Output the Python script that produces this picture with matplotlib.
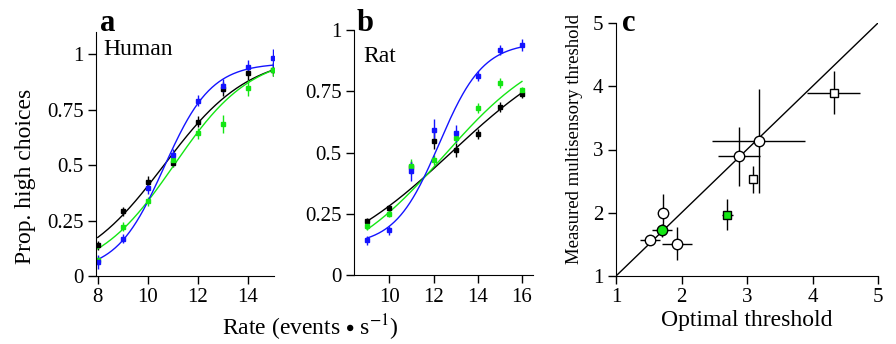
import numpy as np
import matplotlib
matplotlib.use("Agg")
import matplotlib.pyplot as plt

plt.rcParams['font.family'] = ['Liberation Serif', 'DejaVu Serif']
plt.rcParams['mathtext.fontset'] = 'stix'
plt.rcParams['font.size'] = 15

BLUE = '#1414ff'
GREEN = '#14e614'
BLACK = '#000000'

# panel a: human
rate_h = np.array([8, 9, 10, 11, 12, 13, 14, 15])
h_blue = np.array([0.063, 0.168, 0.396, 0.547, 0.79, 0.858, 0.94, 0.982])
h_blue_err = np.array([0.03, 0.02, 0.025, 0.025, 0.025, 0.03, 0.035, 0.04])
h_black = np.array([0.138, 0.292, 0.426, 0.51, 0.696, 0.843, 0.913, 0.93])
h_black_err = np.array([0.02, 0.02, 0.025, 0.02, 0.025, 0.03, 0.03, 0.03])
h_green = np.array([0.07, 0.223, 0.336, 0.523, 0.643, 0.685, 0.847, 0.93])
h_green_err = np.array([0.02, 0.02, 0.02, 0.02, 0.025, 0.04, 0.035, 0.03])

# panel b: rat
rate_r = np.array([9, 10, 11, 12, 13, 14, 15, 16])
r_blue = np.array([0.141, 0.182, 0.423, 0.59, 0.578, 0.813, 0.918, 0.94])
r_blue_err = np.array([0.02, 0.02, 0.04, 0.045, 0.035, 0.02, 0.02, 0.025])
r_black = np.array([0.219, 0.272, 0.44, 0.548, 0.51, 0.577, 0.687, 0.738])
r_black_err = np.array([0.015, 0.015, 0.025, 0.035, 0.03, 0.02, 0.02, 0.015])
r_green = np.array([0.2, 0.25, 0.444, 0.469, 0.56, 0.683, 0.783, 0.754])
r_green_err = np.array([0.015, 0.015, 0.03, 0.02, 0.02, 0.02, 0.02, 0.015])

# psychometric fits: (guess, lapse, mu, sigma)
fit_h = {'blue': (0.02, 0.04, 10.65, 0.95), 'black': (0.0, 0.0, 10.65, 1.7),
         'green': (0.0, 0.0, 11.05, 1.55)}
fit_r = {'blue': (0.12, 0.05, 12.25, 1.0), 'black': (0.0, 0.0, 12.8, 3.0),
         'green': (0.0, 0.03, 12.45, 2.4)}

# panel c: thresholds
opt_x = np.array([1.52, 1.71, 1.93, 2.885, 3.19])
meas_y = np.array([1.57, 1.99, 1.51, 2.89, 3.14])
opt_xlo = np.array([0.15, 0.03, 0.23, 0.33, 0.72])
opt_xhi = np.array([0.15, 0.03, 0.23, 0.32, 0.70])
meas_ylo = np.array([0.08, 0.27, 0.26, 0.46, 0.82])
meas_yhi = np.array([0.08, 0.31, 0.26, 0.47, 0.82])

green_c = (1.70, 1.72)
green_c_xerr = 0.15
green_c_yerr = 0.1

sq_x = np.array([3.09, 4.33])
sq_y = np.array([2.54, 3.90])
sq_xlo = np.array([0.05, 0.42])
sq_xhi = np.array([0.05, 0.39])
sq_ylo = np.array([0.22, 0.34])
sq_yhi = np.array([0.20, 0.34])

green_sq = (2.70, 1.97)
green_sq_xerr = 0.08
green_sq_yerr = (0.25, 0.24)


def psy(x, p):
    g, l, mu, s = p
    return g + (1 - g - l) / (1 + np.exp(-(x - mu) / s))


fig = plt.figure(figsize=(8.96, 3.44), dpi=100)
W, H = 896.0, 344.0


def add_ax(left, right, top, bottom):
    return fig.add_axes([left / W, 1 - bottom / H, (right - left) / W, (bottom - top) / H])


ax_a = add_ax(96, 274, 32, 276)
ax_b = add_ax(354, 533, 30, 275)
ax_c = add_ax(616, 878, 23, 276)

for ax in (ax_a, ax_b, ax_c):
    ax.spines['top'].set_visible(False)
    ax.spines['right'].set_visible(False)
    ax.tick_params(direction='out', length=6, width=1, pad=3, labelsize=15)
    ax.patch.set_alpha(0)

# a
xs = np.linspace(8, 15, 200)
for col, y, e, key in [(BLACK, h_black, h_black_err, 'black'), (GREEN, h_green, h_green_err, 'green'),
                       (BLUE, h_blue, h_blue_err, 'blue')]:
    ax_a.plot(xs, psy(xs, fit_h[key]), color=col, lw=1)
    ax_a.errorbar(rate_h, y, yerr=e, fmt='s', ms=2.5, color=col, elinewidth=1, capsize=0)
ax_a.set_xlim(7.93, 15.05)
ax_a.set_ylim(0, 1.1)
ax_a.set_xticks([8, 10, 12, 14])
ax_a.set_yticks([0, 0.25, 0.5, 0.75, 1])
ax_a.set_yticklabels(['0', '0.25', '0.5', '0.75', '1'])
ax_a.set_ylabel('Prop. high choices', fontsize=17)
ax_a.yaxis.set_label_coords(-0.335, 0.41)
ax_a.text(0.04, 0.93, 'Human', transform=ax_a.transAxes, fontsize=17, va='center')
fig.text(100 / W, 1 - 31 / H, 'a', fontsize=22, fontweight='bold')

# b
xs = np.linspace(9, 16, 200)
for col, y, e, key in [(BLACK, r_black, r_black_err, 'black'), (GREEN, r_green, r_green_err, 'green'),
                       (BLUE, r_blue, r_blue_err, 'blue')]:
    ax_b.plot(xs, psy(xs, fit_r[key]), color=col, lw=1)
    ax_b.errorbar(rate_r, y, yerr=e, fmt='s', ms=2.5, color=col, elinewidth=1, capsize=0)
ax_b.set_xlim(8.4, 16.5)
ax_b.set_ylim(0, 1)
ax_b.set_xticks([10, 12, 14, 16])
ax_b.set_yticks([0, 0.25, 0.5, 0.75, 1])
ax_b.set_yticklabels(['0', '0.25', '0.5', '0.75', '1'])
ax_b.text(0.05, 0.89, 'Rat', transform=ax_b.transAxes, fontsize=17, va='center')
fig.text(357 / W, 1 - 31 / H, 'b', fontsize=22, fontweight='bold')

fig.text(310 / W, 1 - 328 / H, r'Rate (events $\bullet$ s$^{-1}$)', fontsize=17, ha='center', va='center')

# c
ax_c.plot([1, 5], [1, 5], color=BLACK, lw=1)
ax_c.errorbar(opt_x, meas_y, xerr=[opt_xlo, opt_xhi], yerr=[meas_ylo, meas_yhi], fmt='none',
              ecolor=BLACK, elinewidth=1, capsize=0)
ax_c.errorbar(sq_x, sq_y, xerr=[sq_xlo, sq_xhi], yerr=[sq_ylo, sq_yhi], fmt='none',
              ecolor=BLACK, elinewidth=1, capsize=0)
ax_c.errorbar([green_c[0]], [green_c[1]], xerr=green_c_xerr, yerr=green_c_yerr, fmt='none',
              ecolor=BLACK, elinewidth=1, capsize=0)
ax_c.errorbar([green_sq[0]], [green_sq[1]], xerr=green_sq_xerr,
              yerr=[[green_sq_yerr[0]], [green_sq_yerr[1]]], fmt='none',
              ecolor=BLACK, elinewidth=1, capsize=0)
ax_c.plot(opt_x, meas_y, 'o', ms=7.5, mfc='white', mec=BLACK, mew=1, zorder=3)
ax_c.plot(sq_x, sq_y, 's', ms=6, mfc='white', mec=BLACK, mew=1, zorder=3)
ax_c.plot([green_c[0]], [green_c[1]], 'o', ms=7.5, mfc=GREEN, mec=BLACK, mew=1, zorder=4)
ax_c.plot([green_sq[0]], [green_sq[1]], 's', ms=6, mfc=GREEN, mec=BLACK, mew=1, zorder=4)
ax_c.set_xlim(1, 5)
ax_c.set_ylim(1, 5)
ax_c.set_xticks([1, 2, 3, 4, 5])
ax_c.set_yticks([1, 2, 3, 4, 5])
ax_c.set_xlabel('Optimal threshold', fontsize=17, labelpad=2)
ax_c.set_ylabel('Measured multisensory threshold', fontsize=13.5)
ax_c.yaxis.set_label_coords(-0.125, 0.54)
fig.text(622 / W, 1 - 31 / H, 'c', fontsize=22, fontweight='bold')

fig.savefig('out.png', dpi=100)
